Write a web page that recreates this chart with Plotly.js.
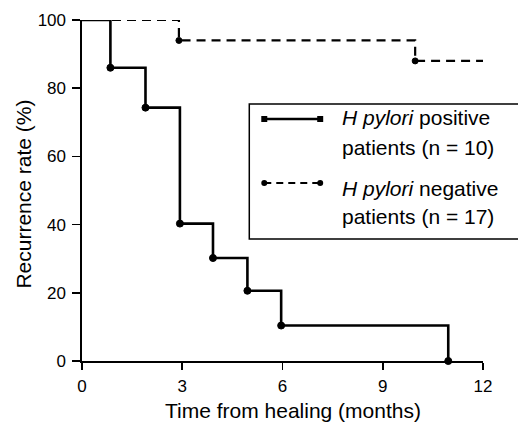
<!DOCTYPE html>
<html><head><meta charset="utf-8">
<script src="https://cdn.plot.ly/plotly-3.0.1.min.js"></script>
<style>html,body{margin:0;padding:0;background:#fff}</style>
</head><body><div id="chart" style="width:518px;height:424px"></div>
<script>
// Kaplan-Meier recurrence curves
const posTime = [0, 0.85, 1.9, 2.93, 3.92, 4.95, 5.96, 10.96];
const posRate = [100, 86, 74.3, 40.3, 30.2, 20.6, 10.4, 0];
const negTime = [0, 2.9, 9.97, 12];
const negRate = [100, 94, 88, 88];
const xTicks = [0, 3, 6, 9, 12];
const yTicks = [0, 20, 40, 60, 80, 100];
const xTitle = 'Time from healing (months)';
const yTitle = 'Recurrence rate (%)';
const legendLabels = [
  ["<i>H pylori</i> positive", "patients (n = 10)"],
  ["<i>H pylori</i> negative", "patients (n = 17)"]
];

const posSizes = posTime.map((t, i) => i === 0 ? 0 : 7);
const negSizes = negTime.map((t, i) => (i === 0 || i === negTime.length - 1) ? 0 : 6);

const FONT = "Liberation Sans, Arial, Helvetica, sans-serif";

const traces = [
  {x: negTime, y: negRate, type: 'scatter', mode: 'lines+markers',
   line: {shape: 'hv', color: '#000', width: 2.2, dash: '9px,6px'},
   marker: {color: '#000', opacity: 1, size: negSizes, symbol: 'circle', line: {color: '#000', width: 1}},
   cliponaxis: false, showlegend: false, hoverinfo: 'skip'},
  {x: posTime, y: posRate, type: 'scatter', mode: 'lines+markers',
   line: {shape: 'hv', color: '#000', width: 2.6},
   marker: {color: '#000', opacity: 1, size: posSizes, symbol: 'circle', line: {color: '#000', width: 1}},
   cliponaxis: false, showlegend: false, hoverinfo: 'skip'}
];

// legend and titles placed in paper coordinates
const L = 81.5, R = 483, T = 20, B = 361;
const px = v => (v - L) / (R - L);
const py = v => (B - v) / (B - T);

const shapes = [
  {type: 'rect', xref: 'paper', yref: 'paper', x0: px(249), x1: px(540), y0: py(239), y1: py(104),
   line: {color: '#000', width: 1.5}, fillcolor: 'rgba(255,255,255,0)'},
  {type: 'line', xref: 'paper', yref: 'paper', x0: px(264), x1: px(320), y0: py(119), y1: py(119),
   line: {color: '#000', width: 2.4}},
  {type: 'rect', xref: 'paper', yref: 'paper', x0: px(261), x1: px(267), y0: py(122), y1: py(116),
   line: {color: '#000', width: 0}, fillcolor: '#000'},
  {type: 'rect', xref: 'paper', yref: 'paper', x0: px(317), x1: px(323), y0: py(122), y1: py(116),
   line: {color: '#000', width: 0}, fillcolor: '#000'},
  {type: 'line', xref: 'paper', yref: 'paper', x0: px(264), x1: px(320), y0: py(183), y1: py(183),
   line: {color: '#000', width: 2, dash: '7px,5px'}},
  {type: 'circle', xref: 'paper', yref: 'paper', x0: px(261), x1: px(267), y0: py(186), y1: py(180),
   line: {color: '#000', width: 0}, fillcolor: '#000'},
  {type: 'circle', xref: 'paper', yref: 'paper', x0: px(317), x1: px(323), y0: py(186), y1: py(180),
   line: {color: '#000', width: 0}, fillcolor: '#000'}
];

const rowsY = [[118, 147], [188, 217]];
const annotations = [];
legendLabels.forEach((pair, i) => {
  pair.forEach((txt, j) => {
    annotations.push({xref: 'paper', yref: 'paper', x: px(340), y: py(rowsY[i][j]),
      xanchor: 'left', yanchor: 'middle', text: txt, showarrow: false,
      font: {family: FONT, size: 21, color: '#000'}});
  });
});
annotations.push({xref: 'paper', yref: 'paper', x: px(293), y: py(410), xanchor: 'center', yanchor: 'middle',
  text: xTitle, showarrow: false, font: {family: FONT, size: 21, color: '#000'}});
annotations.push({xref: 'paper', yref: 'paper', x: px(22), y: py(194), xanchor: 'center', yanchor: 'middle',
  text: yTitle, textangle: -90, showarrow: false, font: {family: FONT, size: 21, color: '#000'}});

const layout = {
  width: 518, height: 424,
  margin: {l: L, r: 518 - R, t: T, b: 424 - B, pad: 0},
  paper_bgcolor: '#fff', plot_bgcolor: '#fff',
  font: {family: FONT, color: '#000'},
  showlegend: false,
  xaxis: {range: [0, 12], tickvals: xTicks, ticktext: xTicks.map(String),
    showgrid: false, zeroline: false, showline: true, linecolor: '#000', linewidth: 1.6,
    ticks: 'outside', ticklen: 7, tickwidth: 1.6, tickcolor: '#000',
    tickfont: {family: FONT, size: 17, color: '#000'}, ticklabelstandoff: 2,
    fixedrange: true},
  yaxis: {range: [0, 100], tickvals: yTicks, ticktext: yTicks.map(String),
    showgrid: false, zeroline: false, showline: true, linecolor: '#000', linewidth: 1.6,
    ticks: 'outside', ticklen: 8, tickwidth: 1.6, tickcolor: '#000',
    tickfont: {family: FONT, size: 17, color: '#000'}, ticklabelstandoff: 3,
    fixedrange: true},
  shapes: shapes,
  annotations: annotations
};

Plotly.newPlot('chart', traces, layout, {displayModeBar: false, staticPlot: true});
</script>
</body></html>
